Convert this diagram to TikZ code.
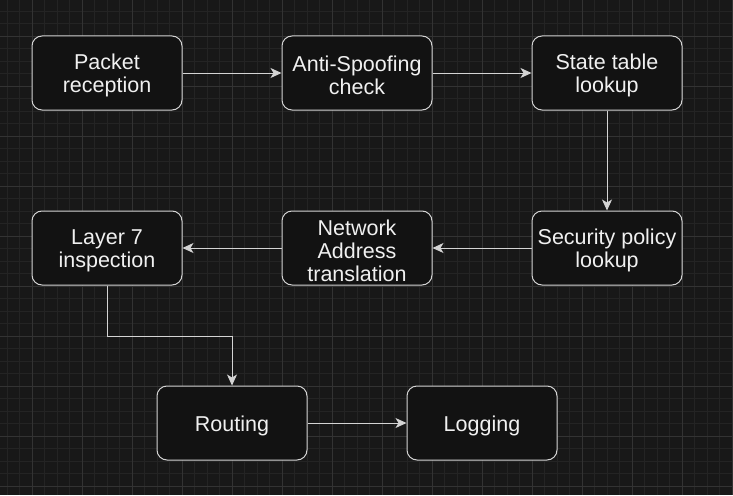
\documentclass[tikz,border=0pt]{standalone}
\usepackage{fontspec}
\setmainfont{Liberation Sans}
\usetikzlibrary{arrows.meta}
\definecolor{bg}{HTML}{181818}
\definecolor{gridminor}{HTML}{242424}
\definecolor{gridmajor}{HTML}{333333}
\definecolor{boxfill}{HTML}{121212}
\definecolor{boxline}{HTML}{D4D4D4}
\definecolor{txt}{HTML}{F0F0F0}
\tikzset{
  stepbox/.style={draw=boxline, fill=boxfill, line width=1pt, rounded corners=10pt,
    minimum width=150pt, minimum height=74pt, inner sep=2pt},
  lbl/.style={align=center, text=txt, inner sep=0pt, yshift=-2.5pt,
    font=\fontsize{21.5pt}{23pt}\selectfont},
  conn/.style={draw=boxline, line width=1pt, -{Stealth[length=11pt,width=10pt,inset=3pt]}}
}
\begin{document}
\begin{tikzpicture}[x=1pt,y=-1pt]
\fill[bg] (0,0) rectangle (733,495);
\useasboundingbox (0,0) rectangle (733,495);
\foreach \i in {0,...,59} {
  \draw[gridminor, line width=0.6pt] ({7+12.5*\i},0) -- ({7+12.5*\i},495);
}
\foreach \i in {0,...,40} {
  \draw[gridminor, line width=0.6pt] (0,{11+12.5*\i}) -- (733,{11+12.5*\i});
}
\foreach \i in {0,...,15} {
  \draw[gridmajor, line width=0.8pt] ({32+50*(\i-1)},0) -- ({32+50*(\i-1)},495);
}
\foreach \i in {0,...,11} {
  \draw[gridmajor, line width=0.8pt] (0,{36+50*(\i-1)}) -- (733,{36+50*(\i-1)});
}
\node[stepbox, label={[lbl]center:{Packet\\reception}}] (pr) at (107,73) {};
\node[stepbox, label={[lbl]center:{Anti-Spoofing\\check}}] (as) at (357,73) {};
\node[stepbox, label={[lbl]center:{State table\\lookup}}] (st) at (607,73) {};
\node[stepbox, label={[lbl]center:{Security policy\\lookup}}] (sp) at (607,248) {};
\node[stepbox, label={[lbl]center:{Network\\Address\\translation}}] (nat) at (357,248) {};
\node[stepbox, label={[lbl]center:{Layer 7\\inspection}}] (l7) at (107,248) {};
\node[stepbox, label={[lbl]center:{Routing}}] (ro) at (232,423) {};
\node[stepbox, label={[lbl]center:{Logging}}] (lo) at (482,423) {};
\draw[conn] (pr) -- (as);
\draw[conn] (as) -- (st);
\draw[conn] (st) -- (sp);
\draw[conn] (sp) -- (nat);
\draw[conn] (nat) -- (l7);
\draw[conn] (l7.south) -- ++(0,51) -| (ro.north);
\draw[conn] (ro) -- (lo);
\end{tikzpicture}
\end{document}
